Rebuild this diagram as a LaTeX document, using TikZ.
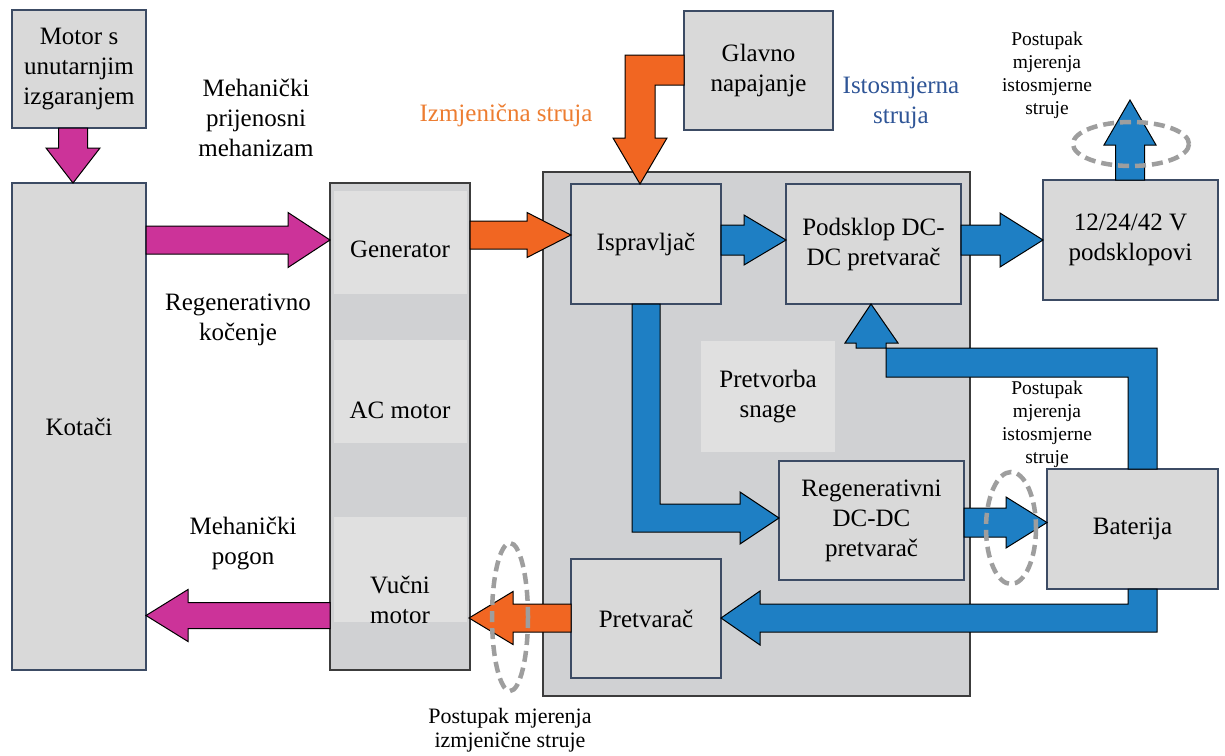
\documentclass[tikz,border=0pt]{standalone}
\usepackage{fontspec}
\setmainfont{Liberation Serif}
\usetikzlibrary{calc}
\definecolor{boxfill}{RGB}{217,217,217}
\definecolor{boxline}{RGB}{60,75,100}
\definecolor{bigfill}{RGB}{208,209,211}
\definecolor{bandfill}{RGB}{224,224,224}
\definecolor{bigline}{RGB}{60,60,60}
\definecolor{pinkA}{RGB}{204,51,153}
\definecolor{orangeA}{RGB}{241,102,34}
\definecolor{blueA}{RGB}{30,127,196}
\definecolor{blueT}{RGB}{47,85,151}
\definecolor{orangeT}{RGB}{237,125,49}
\definecolor{dashgray}{RGB}{158,158,158}
\newcommand\mainfs{\fontsize{25}{30}\selectfont}
\newcommand\smallfs{\fontsize{19.5}{23}\selectfont}
\newcommand\botfs{\fontsize{22}{24}\selectfont}
% horizontal block arrow: colour, x start, x head base, x tip, y centre, shaft half, head half
\newcommand\harr[7]{\draw[fat, fill=#1] (#2,#5-#6) -- (#3,#5-#6) -- (#3,#5-#7) -- (#4,#5) -- (#3,#5+#7) -- (#3,#5+#6) -- (#2,#5+#6) -- cycle;}
% vertical block arrow: colour, x centre, y start, y head base, y tip, shaft half, head half
\newcommand\varr[7]{\draw[fat, fill=#1] (#2-#6,#3) -- (#2-#6,#4) -- (#2-#7,#4) -- (#2,#5) -- (#2+#7,#4) -- (#2+#6,#4) -- (#2+#6,#3) -- cycle;}
\tikzset{
  blk/.style={draw=boxline, line width=1.1pt, fill=boxfill, inner sep=0pt, align=center, font=\mainfs},
  band/.style={fill=bandfill, inner sep=0pt, align=center, font=\mainfs},
  lbl/.style={align=center, font=\mainfs, inner sep=0pt},
  smalllbl/.style={align=center, font=\smallfs, inner sep=0pt},
  fat/.style={draw=black, line width=1pt, line join=miter},
  meas/.style={draw=dashgray, line width=4.5pt, dash pattern=on 11pt off 6pt},
}
\begin{document}
\begin{tikzpicture}[x=1pt,y=-1pt]
\useasboundingbox (0,0) rectangle (1225,755);
\fill[white] (0,0) rectangle (1225,755);

% big power conversion box
\node[draw=bigline, line width=1.8pt, fill=bigfill, minimum width=427, minimum height=524, inner sep=0pt] (big) at (756.5,434) {};
\node[fill=bandfill, minimum width=134, minimum height=111, inner sep=0pt, font=\mainfs, align=center] (pretv) at (768,396.5) {Pretvorba\\snage};

% AC motor column
\node[draw=bigline, line width=1.5pt, fill=bigfill, minimum width=140, minimum height=487, inner sep=0pt] (acm) at (400,426.5) {};
\node[band, minimum width=133, minimum height=103] (gen) at (400,242) {};
\node[lbl] (gent) at (400,249) {Generator};
\node[band, minimum width=133, minimum height=103] (acmot) at (400,391.5) {};
\node[lbl] (acmt) at (400,410) {AC motor};
\node[band, minimum width=133, minimum height=105] (vuc) at (400,569.5) {};
\node[lbl] (vuct) at (400,600) {Vučni\\motor};

% blocks
\node[blk, minimum width=134, minimum height=118] (motor) at (79,69) {Motor s\\unutarnjim\\izgaranjem};
\node[blk, minimum width=134, minimum height=487] (kot) at (79,426.5) {Kotači};
\node[blk, minimum width=149, minimum height=119] (glav) at (758.5,70.5) {Glavno\\napajanje};
\node[blk, minimum width=150, minimum height=120] (isp) at (646,244) {Ispravljač};
\node[blk, minimum width=175, minimum height=120] (pod) at (873.5,244) {Podsklop DC-\\DC pretvarač};
\node[blk, minimum width=175, minimum height=120] (v12) at (1130.5,240) {12/24/42 V\\podsklopovi};
\node[blk, minimum width=185, minimum height=119] (regen) at (871.5,520.5) {Regenerativni\\DC-DC\\pretvarač};
\node[blk, minimum width=171, minimum height=120] (bat) at (1132.5,529) {Baterija};
\node[blk, minimum width=150, minimum height=119] (pret) at (646,618.5) {Pretvarač};

% labels
\node[lbl] (l1) at (256,118) {Mehanički\\prijenosni\\mehanizam};
\node[lbl] (l2) at (238,320) {Regenerativno\\kočenje};
\node[lbl] (l3) at (243,543) {Mehanički\\pogon};
\node[lbl, text=orangeT] (l4) at (506,115) {Izmjenična struja};
\node[lbl, text=blueT] (l5) at (901,103) {Istosmjerna\\struja};
\node[smalllbl] (l6) at (1047,75) {Postupak\\mjerenja\\istosmjerne\\struje};
\node[smalllbl] (l7) at (1047,424) {Postupak\\mjerenja\\istosmjerne\\struje};
\node[align=center, font=\botfs, inner sep=0pt] (l8) at (510,730) {Postupak mjerenja\\izmjenične struje};

% mechanical arrows
\varr{pinkA}{73}{128}{148}{183}{14.5}{27}
\harr{pinkA}{146}{288}{330}{240}{14}{27.5}
\harr{pinkA}{330}{188}{146}{615.5}{13}{26}

% AC arrows
\harr{orangeA}{470}{527}{571}{235}{14}{22.5}
\harr{orangeA}{571}{513}{469}{618}{14}{26.5}
\draw[fat, fill=orangeA] (684,55) -- (625,55) -- (625,138) -- (613,138) -- (640,184) -- (667,138) -- (655,138) -- (655,85) -- (684,85) -- cycle;

% DC arrows
\harr{blueA}{721}{744}{786}{240}{15}{25}
\harr{blueA}{961}{1000}{1043}{240}{15}{27}
\harr{blueA}{964}{1006}{1047}{522.5}{14.5}{25.5}
\varr{blueA}{1130}{180}{145}{100}{14.5}{26}
\draw[fat, fill=blueA] (632,304) -- (632,532) -- (740,532) -- (740,544) -- (779,518) -- (740,492) -- (740,504) -- (660,504) -- (660,304) -- cycle;
\draw[fat, fill=blueA] (1128,469) -- (1128,377) -- (886,377) -- (886,343) -- (898,343) -- (871,304) -- (845,343) -- (856,343) -- (856,348) -- (1157,348) -- (1157,469) -- cycle;
\draw[fat, fill=blueA] (1128,589) -- (1128,604) -- (760,604) -- (760,591) -- (721,618) -- (760,645) -- (760,632) -- (1157,632) -- (1157,589) -- cycle;

% measurement ellipses
\draw[meas] (1131,144) ellipse [x radius=58, y radius=22];
\draw[meas] (1011,528) ellipse [x radius=25, y radius=56];
\draw[meas] (510,617) ellipse [x radius=18, y radius=74];
\end{tikzpicture}
\end{document}
